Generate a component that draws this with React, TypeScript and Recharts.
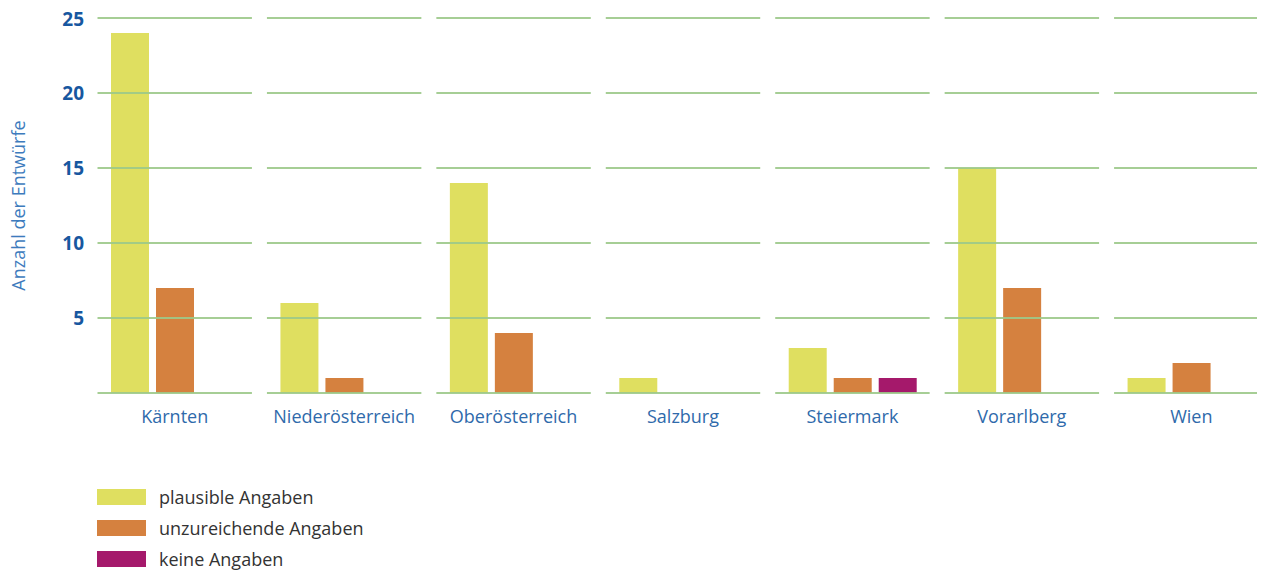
import React from 'react';
import { BarChart, Bar, XAxis, YAxis, CartesianGrid, Legend } from 'recharts';

const categories = ['Kärnten', 'Niederösterreich', 'Oberösterreich', 'Salzburg', 'Steiermark', 'Vorarlberg', 'Wien'];
const plausible = [24, 6, 14, 1, 3, 15, 1];
const unzureichend = [7, 1, 4, 0, 1, 7, 2];
const keine = [0, 0, 0, 0, 1, 0, 0];
const yTicks = [0, 5, 10, 15, 20, 25];

const seriesNames = ['plausible Angaben', 'unzureichende Angaben', 'keine Angaben'];
const seriesColors = ['#dfdf60', '#d5813f', '#a5196b'];

const data = categories.map((c, i) => ({
  name: c,
  plausible: plausible[i],
  unzureichend: unzureichend[i],
  keine: keine[i],
}));

const GRID_COLOR = '#9cc98a';

const renderGridLine = (props: any) => {
  const { x1, x2, y1, key } = props;
  const n = categories.length;
  const bw = (x2 - x1) / n;
  const inset = 7.5;
  return (
    <g key={key}>
      {categories.map((c, i) => (
        <line
          key={c}
          x1={x1 + i * bw + inset}
          x2={x1 + (i + 1) * bw - inset}
          y1={y1}
          y2={y1}
          stroke={GRID_COLOR}
          strokeWidth={2}
          strokeOpacity={0.9}
        />
      ))}
    </g>
  );
};

const renderLegend = () => (
  <div style={{ fontFamily: '"Open Sans", sans-serif', fontSize: 18, color: '#333333' }}>
    {seriesNames.map((n, i) => (
      <div key={n} style={{ display: 'flex', alignItems: 'center', height: 31 }}>
        <div style={{ width: 49, height: 16, background: seriesColors[i], marginRight: 13 }} />
        <span>{n}</span>
      </div>
    ))}
  </div>
);

export default function App() {
  return (
    <div style={{ width: 1257, height: 564, overflow: 'hidden', position: 'relative' }}>
      <BarChart
        width={1275}
        height={564}
        data={data}
        margin={{ top: 10, right: 7, bottom: 149, left: 0 }}
        barSize={38}
        barGap={7}
      >
        <XAxis
          dataKey="name"
          axisLine={false}
          tickLine={false}
          tickSize={0}
          tickMargin={17}
          height={30}
          interval={0}
          tick={{ fill: '#2f6aab', fontSize: 18, fontFamily: '"Open Sans", sans-serif' }}
        />
        <YAxis
          domain={[0, 25]}
          ticks={yTicks}
          axisLine={false}
          tickLine={false}
          tickSize={0}
          tickMargin={6}
          width={82}
          tickFormatter={(v: number) => (v === 0 ? '' : String(v))}
          tick={{ fill: '#1757a0', fontSize: 19, fontWeight: 700, fontFamily: '"Open Sans", sans-serif' }}
          label={{
            value: 'Anzahl der Entwürfe',
            angle: -90,
            position: 'insideLeft',
            offset: 11,
            style: { textAnchor: 'middle', fill: '#3d7bbd', fontSize: 18, fontFamily: '"Open Sans", sans-serif' },
          }}
        />
        <Bar dataKey="plausible" name={seriesNames[0]} fill={seriesColors[0]} isAnimationActive={false} />
        <Bar dataKey="unzureichend" name={seriesNames[1]} fill={seriesColors[1]} isAnimationActive={false} />
        <Bar dataKey="keine" name={seriesNames[2]} fill={seriesColors[2]} isAnimationActive={false} />
        <CartesianGrid vertical={false} horizontal={renderGridLine} {...({ zIndex: 600 } as any)} />
        <Legend
          layout="horizontal"
          verticalAlign="middle"
          align="center"
          wrapperStyle={{ left: 89, top: 473, width: 400, height: 'auto' }}
          content={renderLegend}
        />
      </BarChart>
    </div>
  );
}
